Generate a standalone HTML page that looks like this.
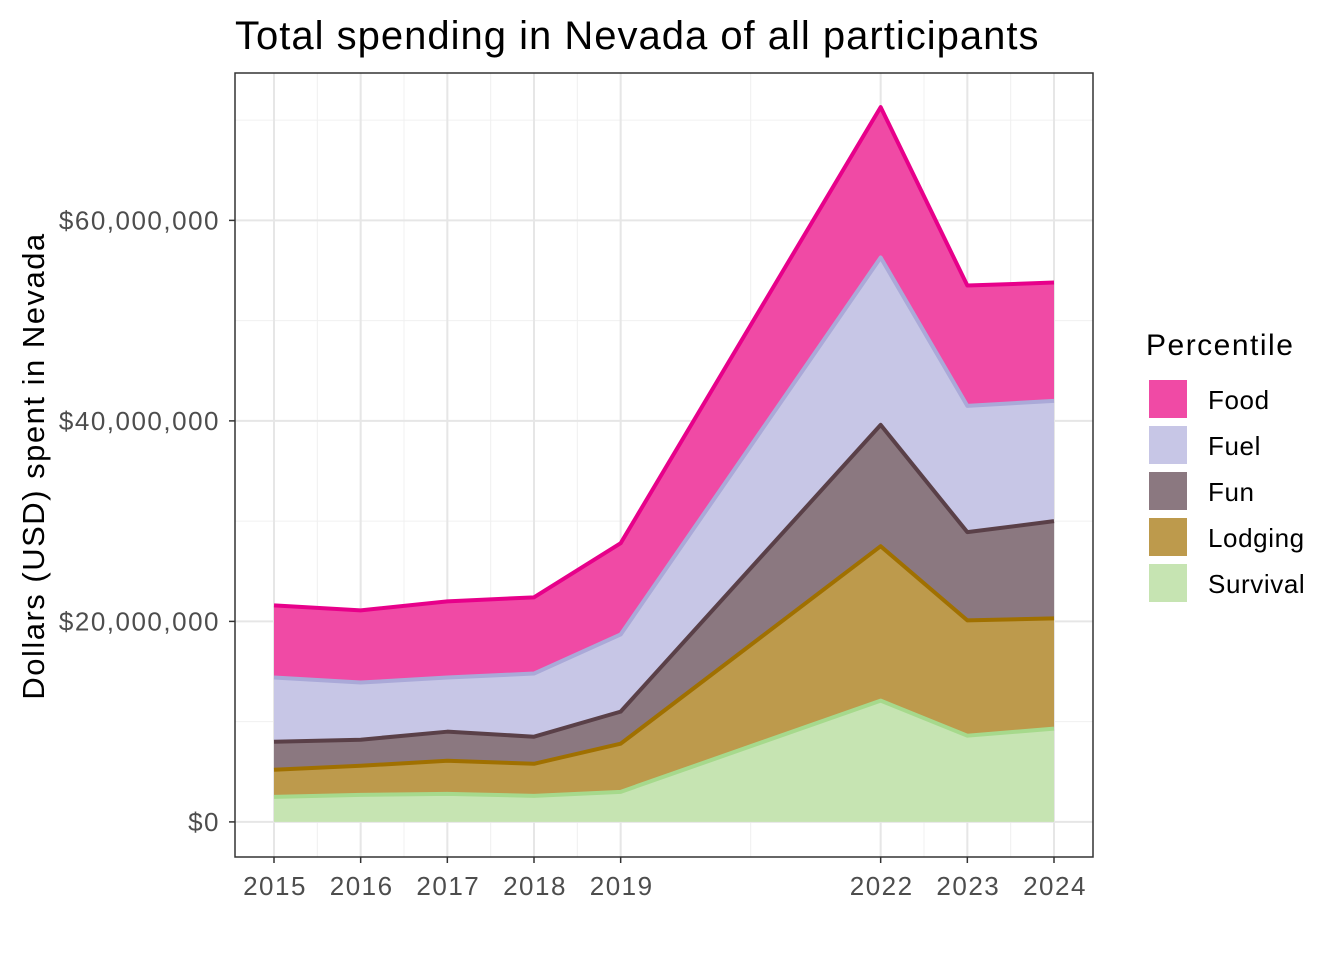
<!DOCTYPE html>
<html><head><meta charset="utf-8"><style>
body{margin:0;background:#fff;}
svg text{font-family:"Liberation Sans",Arial,sans-serif;}
</style></head><body>
<svg id="chart" width="1344" height="960" xmlns="http://www.w3.org/2000/svg">
<rect width="1344" height="960" fill="#fff"/>
<text x="235" y="49" font-size="40" letter-spacing="1" fill="#000">Total spending in Nevada of all participants</text>
<g id="grid"></g><g id="areas"></g><g id="lines"></g>
<rect x="235" y="73" width="858" height="784" fill="none" stroke="#333" stroke-width="1.5"/>
<g id="axes"></g>
<text transform="translate(44,466) rotate(-90)" text-anchor="middle" font-size="31" letter-spacing="1.5" fill="#000">Dollars (USD) spent in Nevada</text>
<g id="legend"></g>
</svg>
<script>
const years=[2015,2016,2017,2018,2019,2022,2023,2024];
const seriesNames=["Survival","Lodging","Fun","Fuel","Food"];
const survival=[2.5,2.7,2.8,2.6,3.0,12.1,8.6,9.3];
const lodging=[2.7,2.9,3.3,3.2,4.8,15.4,11.5,11.0];
const fun=[2.8,2.6,2.9,2.7,3.2,12.1,8.8,9.7];
const fuel=[6.4,5.7,5.4,6.3,7.7,16.7,12.6,12.0];
const food=[7.2,7.2,7.6,7.6,9.1,15.0,12.0,11.8];
const yTicks=[0,20,40,60];
const yTickLabels=["$0","$20,000,000","$40,000,000","$60,000,000"];
const fills=["#c6e4b2","#bd9a4c","#8b7880","#c7c6e6","#f04aa5"];
const strokes=["#a6d98c","#a07000","#5a4048","#aaa9d8","#e7008a"];
const NS="http://www.w3.org/2000/svg";
const X0=235,X1=1093,Y0=857,Y1=73,xmin=2014.55,xmax=2024.45,ymin=-3.5,ymax=74.7;
const xs=v=>X0+(v-xmin)/(xmax-xmin)*(X1-X0);
const ys=v=>Y0-(v-ymin)/(ymax-ymin)*(Y0-Y1);
function mk(tag,attrs,parent){const e=document.createElementNS(NS,tag);for(const k in attrs)e.setAttribute(k,attrs[k]);parent.appendChild(e);return e;}
const grid=document.getElementById('grid'),areas=document.getElementById('areas'),lines=document.getElementById('lines'),axes=document.getElementById('axes'),legend=document.getElementById('legend');
mk('rect',{x:X0,y:Y1,width:X1-X0,height:Y0-Y1,fill:'#fff'},grid);
[10,30,50,70].forEach(v=>{const l=mk('line',{x1:X0,x2:X1,y1:ys(v),y2:ys(v),stroke:'#f0f0f0','stroke-width':1},grid);});
[2015.5,2016.5,2017.5,2018.5,2020.5,2022.5,2023.5].forEach(v=>{const l=mk('line',{x1:xs(v),x2:xs(v),y1:Y1,y2:Y0,stroke:'#f0f0f0','stroke-width':1},grid);});
yTicks.forEach((v,i)=>{const l=mk('line',{x1:X0,x2:X1,y1:ys(v),y2:ys(v),stroke:'#e6e6e6','stroke-width':2},grid);
 const t=mk('line',{x1:X0-6,x2:X0,y1:ys(v),y2:ys(v),stroke:'#333','stroke-width':1.5},axes);
 const tx=mk('text',{x:X0-15,y:ys(v)+9,'text-anchor':'end','font-size':26,'letter-spacing':1.5,fill:'#4d4d4d'},axes);tx.textContent=yTickLabels[i];});
years.forEach(v=>{const l=mk('line',{x1:xs(v),x2:xs(v),y1:Y1,y2:Y0,stroke:'#e6e6e6','stroke-width':2},grid);
 const t=mk('line',{x1:xs(v),x2:xs(v),y1:Y0,y2:Y0+6,stroke:'#333','stroke-width':1.5},axes);
 const tx=mk('text',{x:xs(v)+1,y:Y0+38,'text-anchor':'middle','font-size':26,'letter-spacing':1.5,fill:'#4d4d4d'},axes);tx.textContent=v;});
const data=[survival,lodging,fun,fuel,food];
let base=years.map(()=>0);
data.forEach((s,k)=>{const top=base.map((b,i)=>b+s[i]);
 let d=years.map((y,i)=>(i?'L':'M')+xs(y)+','+ys(top[i])).join('');
 for(let i=years.length-1;i>=0;i--)d+='L'+xs(years[i])+','+ys(base[i]);
 const a=mk('path',{d:d+'Z',fill:fills[k]},areas);
 const ln=mk('path',{d:years.map((y,i)=>(i?'L':'M')+xs(y)+','+ys(top[i])).join(''),fill:'none',stroke:strokes[k],'stroke-width':4,'stroke-linejoin':'round'},lines);
 base=top;});
const lt=mk('text',{x:1146,y:355,'font-size':30,'letter-spacing':1.5,fill:'#000'},legend);lt.textContent='Percentile';
const legOrder=[4,3,2,1,0];
legOrder.forEach((k,j)=>{const y=380+j*46;
 const r=mk('rect',{x:1149,y:y,width:38,height:38,fill:fills[k]},legend);
 const t=mk('text',{x:1208,y:y+29,'font-size':26,'letter-spacing':0.6,fill:'#000'},legend);t.textContent=seriesNames[k];});
</script>
</body></html>
